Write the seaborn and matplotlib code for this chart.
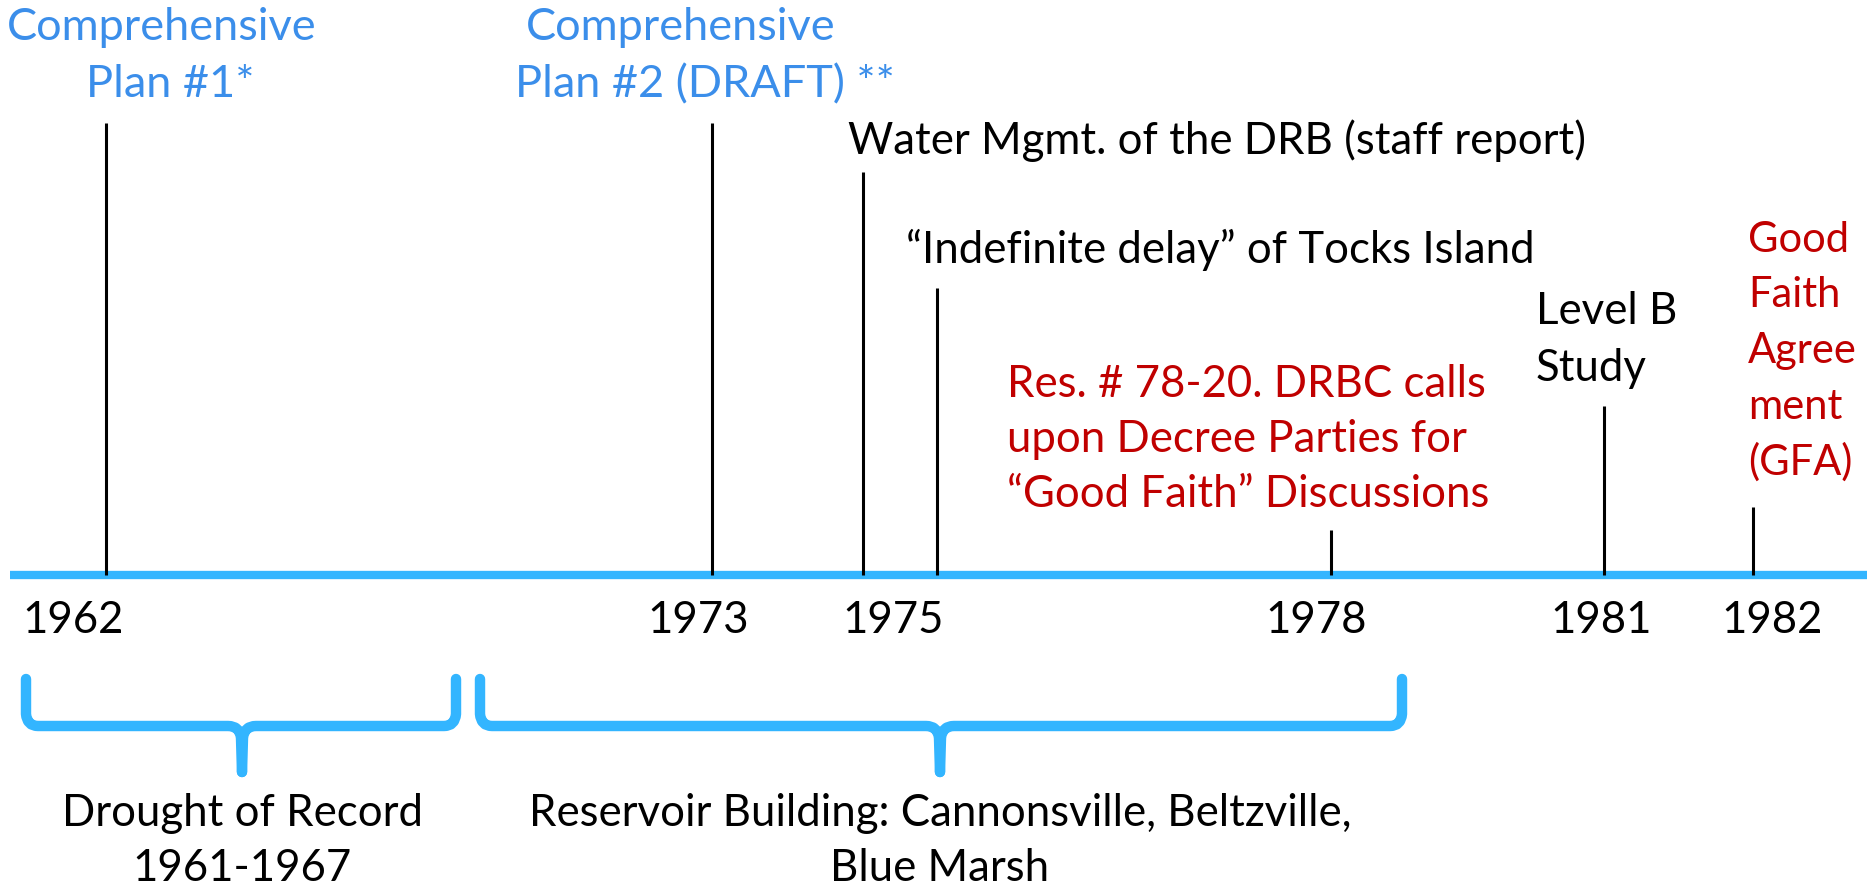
import matplotlib
matplotlib.use("Agg")
import matplotlib.pyplot as plt
import seaborn as sns
import pandas as pd
from matplotlib.path import Path
from matplotlib.patches import PathPatch

# --- timeline data (positions along the schematic timeline, in pixel units) ---
event_names = ["Comprehensive Plan #1", "Comprehensive Plan #2", "Water Mgmt.",
               "Tocks Island", "Res. 78-20", "Level B", "GFA"]
event_pos = [106, 712, 863, 937, 1331, 1604, 1753]
stem_top = [123, 123, 172, 288, 530, 406, 507]

year_labels = ["1962", "1973", "1975", "1978", "1981", "1982"]
year_pos = [73, 698, 893, 1316, 1601, 1772]

period_labels = ["Drought of Record\n1961-1967",
                 "Reservoir Building: Cannonsville, Beltzville,\nBlue Marsh"]
period_start = [26, 480]
period_end = [456, 1402]
period_mid = [242, 940]

AXIS_Y = 575
BLUE_LINE = "#33B5FF"
BLUE_TXT = "#3B8EEA"
RED = "#C00000"
FONT = "Lato"
FS = 31.5

sns.set_theme(style="white")
plt.rcParams["font.family"] = [FONT, "DejaVu Sans"]

fig = plt.figure(figsize=(18.67, 8.9), dpi=100)
ax = fig.add_axes([0, 0, 1, 1])

# main timeline bar
line_df = pd.DataFrame({"x": [10, 1867], "y": [AXIS_Y, AXIS_Y]})
sns.lineplot(data=line_df, x="x", y="y", ax=ax, color=BLUE_LINE, linewidth=6,
             solid_capstyle="butt")

# event stems
ax.vlines(event_pos, stem_top, AXIS_Y, color="black", linewidth=2.2, zorder=3)

# event labels (one text per line so spacing matches the slide)
def lines(xs, ys, texts, color, ha="left", fs=FS):
    for x, y, t in zip(xs, ys, texts):
        ax.text(x, y, t, color=color, fontsize=fs, ha=ha, va="baseline")

lines([162, 170], [40, 97], ["Comprehensive", "Plan #1*"], BLUE_TXT, ha="center", fs=32.5)
lines([681, 705], [40, 97], ["Comprehensive", "Plan #2 (DRAFT) **"], BLUE_TXT, ha="center", fs=32.5)
lines([848], [154], ["Water Mgmt. of the DRB (staff report)"], "black")
lines([906], [263], ["\u201cIndefinite delay\u201d of Tocks Island"], "black")
lines([1007] * 3, [397, 452, 507],
      ["Res. # 78-20. DRBC calls", "upon Decree Parties for",
       "\u201cGood Faith\u201d Discussions"], RED)
lines([1536] * 2, [324, 381], ["Level B", "Study"], "black")
lines([1748] * 5, [252, 307, 363, 419, 475],
      ["Good", "Faith", "Agree", "ment", "(GFA)"], RED, fs=30)

# year labels
for x, lab in zip(year_pos, year_labels):
    ax.text(x, 633, lab, fontsize=FS, ha="center", va="baseline", color="black")

# curly braces for periods
def brace(x0, x1, xm, top=679, yh=726, tip=772, r=12):
    codes = [Path.MOVETO, Path.LINETO, Path.CURVE3, Path.CURVE3,
             Path.LINETO, Path.CURVE3, Path.CURVE3, Path.LINETO]
    for xe, d in ((x0, 1), (x1, -1)):
        verts = [(xe, top), (xe, yh - r), (xe + d * 1, yh), (xe + d * r, yh),
                 (xm - d * 14, yh), (xm - d * 2, yh), (xm - d * 1, yh + 12), (xm, tip)]
        ax.add_patch(PathPatch(Path(verts, codes), fill=False, edgecolor=BLUE_LINE,
                               linewidth=7.5, capstyle="round", joinstyle="round"))

for s, e, m, lab in zip(period_start, period_end, period_mid, period_labels):
    brace(s, e, m)
    l1, l2 = lab.split("\n")
    ax.text(m, 826, l1, fontsize=FS, ha="center", va="baseline", color="black")
    ax.text(m, 881, l2, fontsize=FS, ha="center", va="baseline", color="black")

ax.set_xlim(0, 1867)
ax.set_ylim(890, 0)
ax.axis("off")

fig.savefig("out.png", dpi=100, facecolor="white")
